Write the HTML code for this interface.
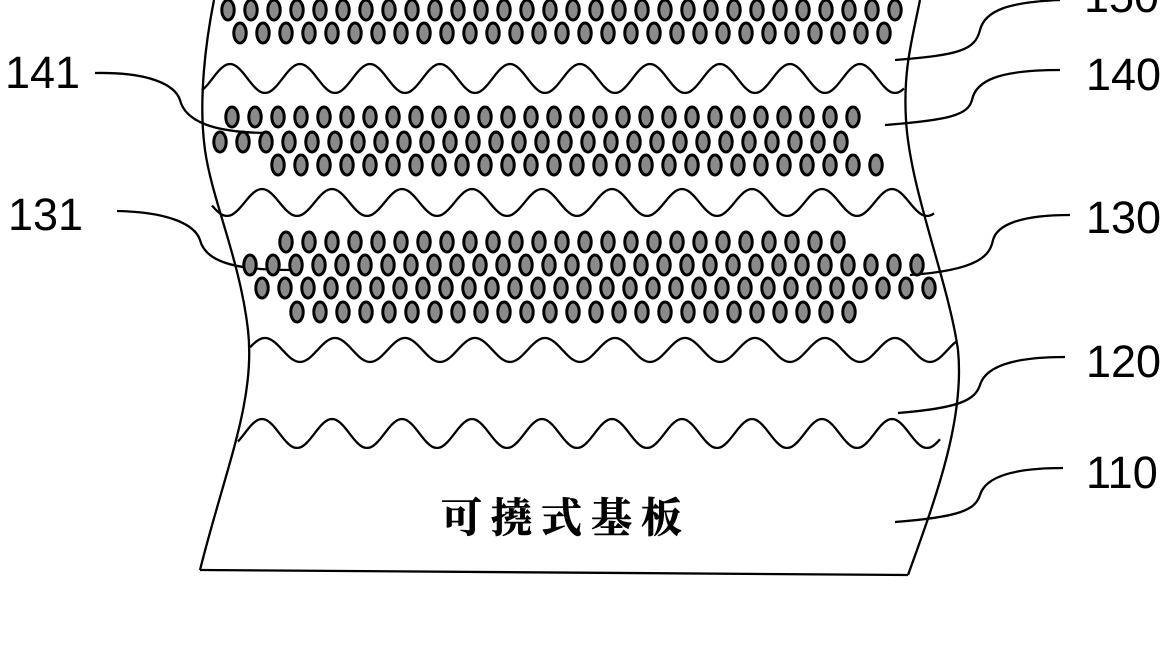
<!DOCTYPE html>
<html><head><meta charset="utf-8"><style>
html,body{margin:0;padding:0;background:#fff;width:1170px;height:650px;overflow:hidden}
svg{display:block}
.n{font-family:"Liberation Sans",sans-serif;font-size:45px;fill:#000}
</style></head><body>
<svg id="s" width="1170" height="650" viewBox="0 0 1170 650" xmlns="http://www.w3.org/2000/svg">
<g fill="none" stroke="#000" stroke-width="2.3">
<path d="M214,0 C206,40 198,100 205,150 C212,200 240,260 248,330 C256,400 225,470 200,570"/>
<path d="M920,0 C912,40 903,70 906,120 C910,190 948,280 958,350 C965,420 935,500 908,575"/>
<path d="M200,570 L908,575"/>
<g id="waves"></g>
<path d="M95,73 C150,72 175,85 180,100 C185,120 210,133 270,133"/>
<path d="M117,211 C170,212 195,225 200,240 C205,260 230,270 290,270"/>
<path d="M895,60 C960,55 975,50 980,30 C985,10 1010,2 1060,0"/>
<path d="M885,125 C950,120 968,115 972,100 C976,80 1000,70 1060,70"/>
<path d="M910,275 C980,270 990,255 993,240 C997,225 1020,215 1070,215"/>
<path d="M898,413 C960,408 975,400 980,385 C985,368 1010,357 1065,357"/>
<path d="M895,522 C960,517 975,510 980,495 C985,478 1010,468 1063,468"/>
</g>
<g id="dots"></g>
<text class="n" x="1084" y="12">150</text>
<text class="n" x="1086" y="90">140</text>
<text class="n" x="1086" y="233">130</text>
<text class="n" x="1086" y="377">120</text>
<text class="n" x="1086" y="488">110</text>
<text class="n" x="5" y="88">141</text>
<text class="n" x="8" y="230">131</text>
<text x="441" y="532" style="font-family:'Liberation Serif','Noto Serif CJK SC',serif;font-size:41px;letter-spacing:9px;font-weight:bold" fill="#000" stroke="#000" stroke-width="0.6">可撓式基板</text>
</svg>
<script>
var NS="http://www.w3.org/2000/svg";
var W=document.getElementById("waves"),D=document.getElementById("dots");
function wave(x0,x1,yt,yb,ph){var d="",P=70;for(var x=x0;x<=x1;x+=2){var y=(yt+yb)/2-(yb-yt)/2*Math.cos((x-ph)*2*Math.PI/P);d+=(d?"L":"M")+x+","+y.toFixed(1);}var p=document.createElementNS(NS,"path");p.setAttribute("d",d);W.appendChild(p);}
wave(202,905,64,93,300);
wave(212,935,189,216,262);
wave(250,957,338,362,265);
wave(238,940,419,448,262);
function row(y,x0,x1){for(var x=x0;x<=x1;x+=23){var e=document.createElementNS(NS,"ellipse");e.setAttribute("cx",x);e.setAttribute("cy",y);e.setAttribute("rx",6.2);e.setAttribute("ry",10);e.setAttribute("fill","#8a8a8a");e.setAttribute("stroke","#000");e.setAttribute("stroke-width","3");D.appendChild(e);}}
row(10,228,900);row(33,240,890);
row(117,232,855);row(142,220,850);row(165,278,880);
row(242,286,860);row(265,250,925);row(288,262,935);row(312,297,870);
</script>
</body></html>
